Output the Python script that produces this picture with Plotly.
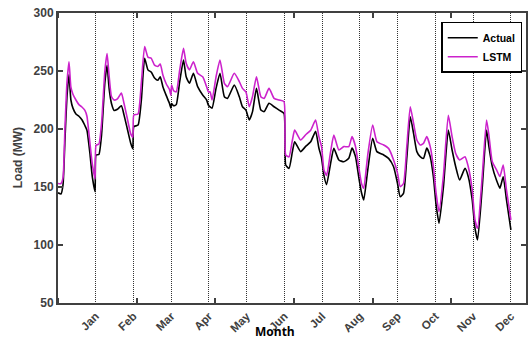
import plotly.graph_objects as go

# ---- data (x = hour index, 240 h per month block) ----
hour_index = [
    0, 19, 32, 44, 57, 70, 82, 95, 114, 133, 152, 171, 184, 203, 218, 236,
    242, 260, 277, 298, 312, 325, 340, 357, 378, 403, 420, 441, 462, 476,
    482, 509, 530, 551, 572, 593, 614, 635, 650, 667, 688, 709, 718,
    722, 735, 752, 773, 798, 815, 836, 861, 888, 920, 945, 956,
    967, 980, 1005, 1030, 1058, 1078, 1121, 1153, 1173, 1195,
    1216, 1237, 1262, 1290, 1311, 1342, 1374, 1406, 1437,
    1448, 1469, 1490, 1505, 1543, 1575, 1607, 1638, 1659, 1676,
    1691, 1708, 1733, 1754, 1786, 1817, 1849, 1870, 1892, 1912,
    1930, 1944, 1970, 2001, 2028, 2071, 2102, 2134, 2159,
    2176, 2197, 2218, 2240, 2261, 2282, 2303, 2324, 2345, 2367, 2387,
    2404, 2423, 2451, 2482, 2506, 2529, 2554, 2588, 2609, 2634,
    2651, 2668, 2698, 2725, 2740, 2761, 2788, 2810, 2831, 2852, 2880,
]
actual_mw = [
    145, 144, 152, 190, 228, 247, 225, 218, 213, 211, 208, 203, 199, 179, 159, 146,
    177.6, 178, 195, 240, 255, 235, 222, 216, 217, 220, 212, 200, 188, 183,
    202, 203.4, 225, 261, 251, 249, 244, 242, 245, 236.5, 229, 222, 218,
    222, 220, 221, 240, 259.5, 245, 239.4, 248, 236.5, 229.3, 225, 220.7,
    219, 218, 235, 248, 227.8, 226.4, 237.9, 227.8, 219.2, 216.3,
    207.8, 215, 235, 216.3, 215, 222.2, 219.2, 216.3, 213.5,
    169, 166, 180, 189, 180.5, 185, 189, 198, 183.6, 175,
    160, 152, 170, 183.4, 173.3, 171.8, 174.7, 183.6, 176.1, 158.9,
    145, 138.8, 165, 191.9, 180.5, 177.6, 174.7, 167.5, 153,
    141.6, 144.5, 175, 210.6, 196.3, 180.5, 176.1, 174.7, 183.6, 176.1, 158.9,
    135, 118.7, 150, 199, 181.9, 167.5, 156, 166.1, 158.9, 138.8,
    115, 104.3, 150, 199, 185, 168, 156, 149, 158.9, 138.8, 113,
]
lstm_mw = [
    153, 153, 158, 200, 240, 258, 236, 230, 225, 221, 219, 216, 211, 188, 170, 157,
    186, 187, 205, 250, 265, 246, 228, 225, 226, 231, 222, 209, 196, 193,
    212, 213, 240, 271, 262, 261, 255, 254, 256, 246.6, 239, 234, 229,
    238, 233, 232, 250, 269.5, 256.6, 251, 258, 248, 245, 236.5, 232,
    232, 225, 245, 259.5, 239.4, 236.5, 248, 240.8, 235, 232,
    219.2, 228, 245, 227.8, 226.4, 235, 226.4, 225, 223.6,
    177.6, 176, 190, 199, 190.5, 195, 199, 207.8, 193.4, 184.8,
    164.7, 160, 180, 194.8, 181.9, 184.8, 184.8, 193.4, 184.8, 167.5,
    153, 148.9, 178, 203.4, 189, 186.2, 183.3, 173.3, 162,
    150.3, 153, 185, 219.2, 205, 190.5, 186.2, 187.6, 193.4, 184.8, 167.5,
    145, 128.7, 160, 211.8, 193.4, 178.9, 173.3, 176.1, 167.5, 147.4,
    122, 114.4, 160, 207.8, 195, 172, 165, 159, 168.9, 147.4, 121.6,
]
month_pos = [240, 480, 720, 960, 1200, 1440, 1680, 1920, 2160, 2400, 2640, 2880]
month_labels = ["Jan", "Feb", "Mar", "Apr", "May", "Jun",
                "Jul", "Aug", "Sep", "Oct", "Nov", "Dec"]
y_ticks = [50, 100, 150, 200, 250, 300]

AX = "#404040"
FONT = "Liberation Sans, Arial, sans-serif"

fig = go.Figure()
fig.add_trace(go.Scatter(x=hour_index, y=actual_mw, mode="lines", name="Actual",
                         line=dict(color="black", width=1.6, shape="spline",
                                   smoothing=0.5)))
fig.add_trace(go.Scatter(x=hour_index, y=lstm_mw, mode="lines", name="LSTM",
                         line=dict(color="#cc22cc", width=1.6, shape="spline",
                                   smoothing=0.5)))

fig.update_layout(
    width=529, height=342,
    margin=dict(l=58, r=1, t=13, b=39),
    paper_bgcolor="white", plot_bgcolor="white",
    font=dict(family=FONT, color=AX),
    showlegend=True,
    legend=dict(x=0.992, y=0.97, xanchor="right", yanchor="top",
                bgcolor="white", bordercolor="black", borderwidth=1.5,
                font=dict(size=10.5, color="black", family=FONT, weight="bold"),
                tracegroupgap=0, itemwidth=30),
    xaxis=dict(
        range=[0, 2976], tickmode="array", tickvals=month_pos, ticktext=month_labels,
        tickangle=-45, ticks="", showgrid=True, gridcolor="#333333",
        griddash="1px,1px", gridwidth=1, zeroline=False,
        showline=True, linecolor=AX, linewidth=2, mirror="ticks",
        tickfont=dict(size=11.5, color=AX, family=FONT, weight="bold"),
        minor=dict(tick0=0, dtick=500, ticks="inside", ticklen=5,
                   tickwidth=1.5, tickcolor=AX, showgrid=False),
    ),
    yaxis=dict(
        range=[50, 300], tickmode="array", tickvals=y_ticks,
        ticks="inside", ticklen=5, tickwidth=1.5, tickcolor=AX,
        showgrid=False, zeroline=False,
        showline=True, linecolor=AX, linewidth=2, mirror="ticks",
        tickfont=dict(size=12, color=AX, family=FONT, weight="bold"),
    ),
    annotations=[
        dict(text="<b>Load (MW)</b>", xref="paper", yref="paper",
             x=-0.085, y=0.5, textangle=-90, showarrow=False,
             xanchor="center", yanchor="middle",
             font=dict(size=12, color=AX, family=FONT)),
        dict(text="<b>Month</b>", xref="paper", yref="paper",
             x=0.464, y=-0.131, showarrow=False, xanchor="center", yanchor="bottom",
             borderpad=0,
             font=dict(size=12, color="black", family="Open Sans, sans-serif")),
    ],
)

fig.write_html("out.html")
